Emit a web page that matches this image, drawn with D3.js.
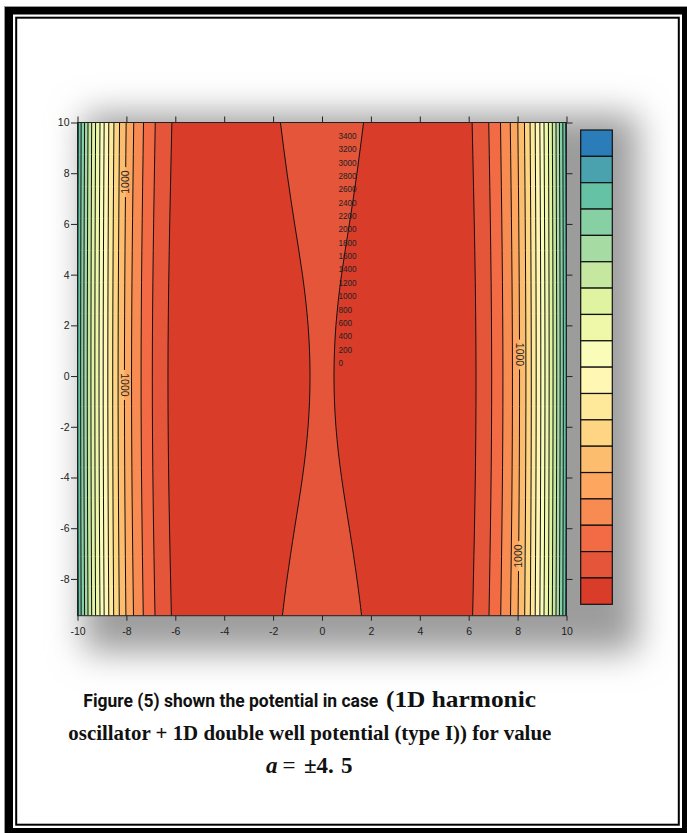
<!DOCTYPE html>
<html>
<head>
<meta charset="utf-8">
<script src="https://cdn.jsdelivr.net/npm/d3@7"></script>
<style>
  html, body { margin: 0; padding: 0; background: #fff; }
  svg { display: block; }
</style>
</head>
<body>
<svg width="687" height="833"></svg>
<script>
// contour levels, also the column of labels in the middle of the plot
const levels = [0, 200, 400, 600, 800, 1000, 1200, 1400, 1600, 1800, 2000,
  2200, 2400, 2600, 2800, 3000, 3200, 3400];

// one colour per band, lowest band first
const bandColors = ["#d93d2a", "#e5553a", "#f26b45", "#f88b51", "#fca65f", "#fdbd6f",
  "#fed582", "#fee89a", "#fff7b3", "#fafdba", "#eef8a8", "#e0f3a1",
  "#c6e79f", "#a6dba4", "#87d0a4", "#66c2a5", "#4aa2ae", "#2b7dba"];

// outer walls: |x| where the potential crosses 200..3200,
// read at the top edge (y=10), at y=0 and at the bottom edge (y=-9.45)
const flankY = [10, 0, -9.45];
const flankTop = [6.14, 6.82, 7.30, 7.70, 8.01, 8.28, 8.51, 8.72, 8.91, 9.08, 9.26, 9.42, 9.57, 9.71, 9.85, 9.97];
const flankMid = [6.30, 6.94, 7.40, 7.79, 8.08, 8.34, 8.56, 8.76, 8.95, 9.12, 9.29, 9.45, 9.60, 9.74, 9.87, 9.99];
const flankBot = [6.16, 6.83, 7.31, 7.71, 8.02, 8.29, 8.52, 8.72, 8.91, 9.08, 9.26, 9.42, 9.57, 9.71, 9.85, 9.97];

// central barrier (level 200): |x| of the contour along y
const barrierY = [10, 8, 6, 4, 2, 0, -2, -4, -6, -8, -9.45];
const barrierX = [1.70, 1.43, 1.12, 0.80, 0.57, 0.49, 0.57, 0.80, 1.12, 1.43, 1.62];

// where the "1000" labels sit on the 1000 contour
const labelSide = [-1, -1, 1, 1];
const labelY = [7.65, -0.35, 0.85, -7.1];
const labelRot = [-90, 90, 90, -90];

const xTicks = [-10, -8, -6, -4, -2, 0, 2, 4, 6, 8, 10];
const yTicks = [-8, -6, -4, -2, 0, 2, 4, 6, 8, 10];

const svg = d3.select("svg");
const font = "'Liberation Sans', Arial, sans-serif";

const x = d3.scaleLinear().domain([-10, 10]).range([77.5, 566.5]);
const y = d3.scaleLinear().domain([-9.45, 10]).range([615.7, 122.5]);

const defs = svg.append("defs");
const blur = defs.append("filter").attr("id", "shadow")
  .attr("x", "-30%").attr("y", "-30%").attr("width", "160%").attr("height", "160%");
blur.append("feGaussianBlur").attr("stdDeviation", 17);

// soft shadow behind the chart
svg.append("rect")
  .attr("x", 84).attr("y", 114).attr("width", 554).attr("height", 538)
  .attr("fill", "#9c9c9c")
  .attr("filter", "url(#shadow)");

defs.append("clipPath").attr("id", "plot")
  .append("rect")
  .attr("x", x(-10)).attr("y", y(10))
  .attr("width", x(10) - x(-10)).attr("height", y(-9.45) - y(10));

const plot = svg.append("g").attr("clip-path", "url(#plot)");

// lowest band fills everything first
plot.append("rect")
  .attr("x", x(-10)).attr("y", y(10))
  .attr("width", x(10) - x(-10)).attr("height", y(-9.45) - y(10))
  .attr("fill", bandColors[0]);

const flanks = flankTop.map((t, k) => [
  { y: flankY[0], x: t },
  { y: flankY[1], x: flankMid[k] },
  { y: flankY[2], x: flankBot[k] }
]);
const barrier = barrierY.map((v, i) => ({ y: v, x: barrierX[i] }));

// central barrier band
plot.append("path")
  .datum(barrier)
  .attr("fill", bandColors[1])
  .attr("d", d3.area()
    .y(d => y(d.y))
    .x0(d => x(-d.x))
    .x1(d => x(d.x))
    .curve(d3.curveNatural));

// wall bands, painted from low to high
flanks.forEach((pts, k) => {
  plot.append("path")
    .datum(pts)
    .attr("fill", bandColors[k + 1])
    .attr("d", d3.area()
      .y(d => y(d.y))
      .x0(x(-10.5))
      .x1(d => x(-d.x))
      .curve(d3.curveNatural));
  plot.append("path")
    .datum(pts)
    .attr("fill", bandColors[k + 1])
    .attr("d", d3.area()
      .y(d => y(d.y))
      .x0(d => x(d.x))
      .x1(x(10.5))
      .curve(d3.curveNatural));
});

// gaps in the 1000 contour under its labels
const k1000 = levels.indexOf(1000) - 1;
const at1000 = d3.scaleLinear().domain(flankY)
  .range([flankTop[k1000], flankMid[k1000], flankBot[k1000]]);
const mask = defs.append("mask").attr("id", "gaps")
  .attr("maskUnits", "userSpaceOnUse")
  .attr("x", 0).attr("y", 0).attr("width", 687).attr("height", 833);
mask.append("rect").attr("width", 687).attr("height", 833).attr("fill", "#fff");
labelY.forEach((v, i) => {
  mask.append("rect")
    .attr("x", x(labelSide[i] * at1000(v)) - 5)
    .attr("y", y(v) - 15)
    .attr("width", 10).attr("height", 30)
    .attr("fill", "#000");
});

// contour lines
const vline = (sign) => d3.line()
  .y(d => y(d.y))
  .x(d => x(sign * d.x))
  .curve(d3.curveNatural);

const lines = plot.append("g")
  .attr("fill", "none")
  .attr("stroke", "#111")
  .attr("stroke-width", 1);

[-1, 1].forEach(s => {
  lines.append("path").attr("d", vline(s)(barrier));
  flanks.forEach((pts, k) => {
    lines.append("path")
      .attr("d", vline(s)(pts))
      .attr("mask", k === k1000 ? "url(#gaps)" : null);
  });
});

// "1000" labels
labelY.forEach((v, i) => {
  const lx = x(labelSide[i] * at1000(v));
  const ly = y(v);
  svg.append("text")
    .attr("transform", `translate(${lx},${ly}) rotate(${labelRot[i]})`)
    .attr("text-anchor", "middle")
    .attr("dy", "0.35em")
    .attr("font-family", font)
    .attr("font-size", 10.5)
    .attr("fill", "#222")
    .text("1000");
});

// column of level labels
const labelPos = d3.scalePoint()
  .domain(levels.slice().reverse())
  .range([y(9.47), y(0.51)]);
svg.append("g")
  .selectAll("text")
  .data(levels.slice().reverse())
  .join("text")
  .attr("x", x(0.67))
  .attr("y", d => labelPos(d))
  .attr("dy", "0.35em")
  .attr("font-family", font)
  .attr("font-size", 8.2)
  .attr("fill", "#222")
  .text(d => d);

// axes
const styleAxis = (g) => {
  g.select(".domain").remove();
  g.selectAll("line").attr("stroke", "#222");
  g.selectAll("text")
    .attr("font-family", font)
    .attr("font-size", 10.5)
    .attr("fill", "#222");
};

svg.append("g")
  .attr("transform", `translate(0,${y(-9.45)})`)
  .call(d3.axisBottom(x).tickValues(xTicks).tickSize(5).tickPadding(7)
    .tickFormat(d => String(d)))
  .call(styleAxis);
svg.append("g")
  .attr("transform", `translate(0,${y(10)})`)
  .call(d3.axisTop(x).tickValues(xTicks).tickSize(6).tickFormat(""))
  .call(styleAxis);
svg.append("g")
  .attr("transform", `translate(${x(-10)},0)`)
  .call(d3.axisLeft(y).tickValues(yTicks).tickSize(6.5).tickPadding(1.5)
    .tickFormat(d => String(d)))
  .call(styleAxis);
svg.append("g")
  .attr("transform", `translate(${x(10)},0)`)
  .call(d3.axisRight(y).tickValues(yTicks).tickSize(6).tickFormat(""))
  .call(styleAxis);

svg.append("rect")
  .attr("x", x(-10)).attr("y", y(10))
  .attr("width", x(10) - x(-10)).attr("height", y(-9.45) - y(10))
  .attr("fill", "none")
  .attr("stroke", "#222")
  .attr("stroke-width", 1);

// colour bar
const barIndex = bandColors.map((c, i) => i).reverse();
const bar = d3.scaleBand().domain(barIndex).range([130, 604.3]);
svg.append("g")
  .selectAll("rect")
  .data(barIndex)
  .join("rect")
  .attr("x", 580.7)
  .attr("y", d => bar(d))
  .attr("width", 31.6)
  .attr("height", bar.bandwidth())
  .attr("fill", d => bandColors[d])
  .attr("stroke", "#111")
  .attr("stroke-width", 1.2);

// caption
const serif = "'Liberation Serif', 'Times New Roman', serif";
svg.append("text")
  .attr("x", 83.3).attr("y", 706.7)
  .attr("font-family", "'Liberation Sans Narrow', Roboto, sans-serif")
  .attr("font-weight", "bold")
  .attr("font-size", 18)
  .attr("fill", "#111")
  .attr("textLength", 295)
  .attr("lengthAdjust", "spacingAndGlyphs")
  .text("Figure (5) shown the potential in case");
svg.append("text")
  .attr("x", 386).attr("y", 706.7)
  .attr("font-family", serif)
  .attr("font-weight", "bold")
  .attr("font-size", 22.5)
  .attr("fill", "#111")
  .attr("textLength", 150)
  .attr("lengthAdjust", "spacingAndGlyphs")
  .text("(1D harmonic");

svg.append("text")
  .attr("x", 68.3).attr("y", 739.5)
  .attr("font-family", serif)
  .attr("font-weight", "bold")
  .attr("font-size", 21)
  .attr("fill", "#111")
  .attr("textLength", 483)
  .attr("lengthAdjust", "spacingAndGlyphs")
  .text("oscillator + 1D double well potential (type I)) for value");

const cap3 = svg.append("text").attr("y", 772.7)
  .attr("font-family", serif).attr("font-size", 23).attr("fill", "#111");
cap3.append("tspan").attr("x", 266).attr("font-weight", "bold").attr("font-style", "italic").text("a");
cap3.append("tspan").attr("x", 282.5).text("=");
cap3.append("tspan").attr("x", 304).attr("font-weight", "bold").text("±4.");
cap3.append("tspan").attr("x", 341).attr("font-weight", "bold").text("5");

// page border: thick outer frame and thin inner line
svg.append("rect")
  .attr("x", 9).attr("y", 10.5).attr("width", 677).attr("height", 821.5)
  .attr("fill", "none").attr("stroke", "#000").attr("stroke-width", 8);
svg.append("rect")
  .attr("x", 16.2).attr("y", 17.7).attr("width", 662.6).attr("height", 807)
  .attr("fill", "none").attr("stroke", "#000").attr("stroke-width", 2);
svg.append("rect")
  .attr("x", 4.5).attr("y", 6.5).attr("width", 700).attr("height", 900)
  .attr("fill", "none").attr("stroke", "#999").attr("stroke-width", 1);
</script>
</body>
</html>
